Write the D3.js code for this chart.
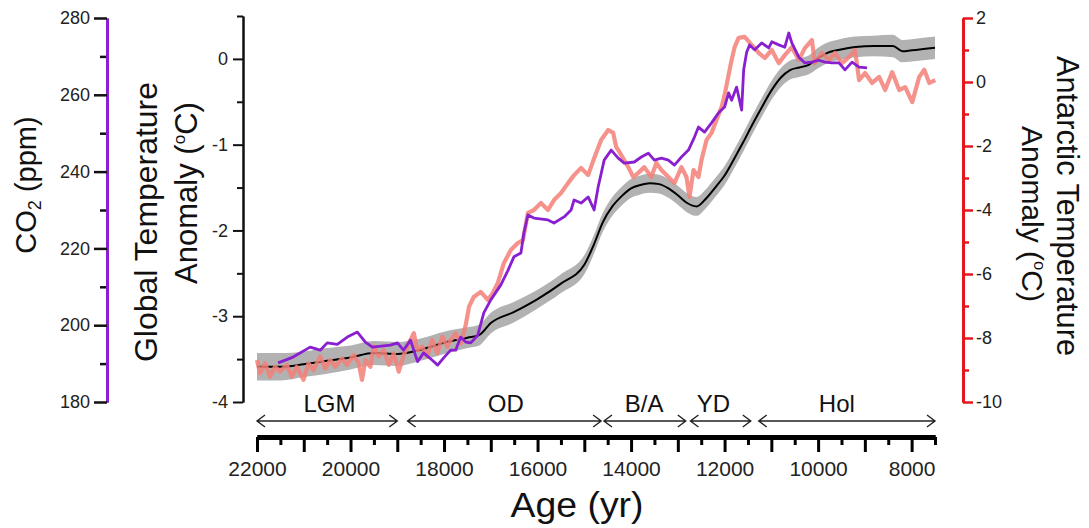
<!DOCTYPE html>
<html>
<head>
<meta charset="utf-8">
<script src="https://cdn.jsdelivr.net/npm/d3@7"></script>
<style>
  body { margin: 0; background: #fff; }
  text { font-family: "Liberation Sans", Arial, sans-serif; }
</style>
</head>
<body>
<svg id="chart" width="1089" height="528"></svg>
<script>
// Global temperature stack (black line + grey uncertainty band)
const globalAge = [22000, 21500, 21000, 20500, 20000, 19500, 19000, 18500, 18000, 17500, 17250, 17000, 16500, 16000, 15500, 15000, 14800, 14600, 14400, 14200, 14000, 13800, 13600, 13400, 13200, 13000, 12800, 12600, 12400, 12200, 12000, 11800, 11600, 11400, 11200, 11000, 10800, 10600, 10400, 10200, 10000, 9800, 9600, 9200, 8800, 8400, 8200, 8000, 7500];
const globalTemp = [-3.59, -3.59, -3.56, -3.52, -3.48, -3.43, -3.44, -3.39, -3.31, -3.25, -3.22, -3.08, -2.95, -2.80, -2.62, -2.40, -2.17, -1.90, -1.72, -1.60, -1.51, -1.47, -1.45, -1.46, -1.51, -1.59, -1.68, -1.72, -1.63, -1.50, -1.36, -1.17, -0.97, -0.76, -0.56, -0.37, -0.22, -0.13, -0.10, -0.07, 0.01, 0.07, 0.10, 0.14, 0.15, 0.15, 0.09, 0.10, 0.13];
const globalErr = [0.16, 0.16, 0.15, 0.15, 0.14, 0.14, 0.14, 0.13, 0.13, 0.12, 0.12, 0.12, 0.12, 0.11, 0.11, 0.11, 0.11, 0.11, 0.11, 0.11, 0.11, 0.11, 0.11, 0.11, 0.11, 0.11, 0.11, 0.11, 0.11, 0.11, 0.11, 0.11, 0.11, 0.11, 0.11, 0.11, 0.11, 0.11, 0.11, 0.11, 0.12, 0.12, 0.12, 0.12, 0.12, 0.13, 0.13, 0.13, 0.13];

// CO2 record (ppm)
const co2Age = [21549, 21227, 20863, 20648, 20498, 20283, 20069, 19854, 19682, 19532, 19146, 18996, 18867, 18717, 18567, 18438, 18245, 18137, 18009, 17858, 17751, 17644, 17536, 17429, 17279, 17150, 17000, 16785, 16635, 16506, 16356, 16292, 16206, 16077, 15777, 15648, 15433, 15283, 15219, 15069, 14918, 14790, 14704, 14575, 14425, 14275, 14146, 13931, 13781, 13631, 13502, 13352, 13202, 13073, 12923, 12773, 12644, 12558, 12429, 12279, 12129, 12000, 11914, 11850, 11743, 11635, 11592, 11528, 11464, 11356, 11206, 11056, 10991, 10841, 10712, 10627, 10562, 10412, 10283, 10133, 9983, 9854, 9704, 9554, 9425, 9275, 9124, 8953];
const co2Ppm = [190.2, 191.7, 194.3, 193.5, 195.4, 195.0, 196.9, 198.2, 195.6, 194.3, 194.8, 195.4, 193.5, 196.1, 190.5, 192.8, 190.8, 189.6, 191.5, 193.5, 193.5, 196.9, 195.6, 195.4, 197.4, 203.2, 206.6, 210.5, 214.2, 217.8, 218.8, 224.0, 228.7, 227.9, 227.4, 226.6, 228.2, 230.0, 232.6, 231.8, 233.4, 230.0, 236.0, 243.0, 245.6, 243.5, 242.2, 242.5, 243.8, 244.8, 243.0, 243.5, 243.0, 241.7, 243.8, 245.6, 249.0, 251.6, 250.3, 252.7, 255.3, 256.8, 260.5, 258.6, 262.0, 256.0, 266.5, 271.1, 273.0, 271.7, 273.5, 272.2, 273.8, 273.0, 272.4, 276.1, 273.5, 269.8, 268.3, 268.5, 269.0, 268.5, 268.3, 268.3, 266.5, 268.5, 267.2, 267.0];

// Antarctic temperature anomaly (degC)
const antAge = [22000, 21936, 21828, 21721, 21614, 21506, 21363, 21256, 21149, 21006, 20899, 20792, 20648, 20541, 20433, 20326, 20183, 20076, 19933, 19826, 19754, 19682, 19575, 19504, 19396, 19289, 19182, 19075, 18968, 18861, 18753, 18646, 18574, 18467, 18359, 18252, 18145, 18037, 17930, 17858, 17751, 17644, 17536, 17465, 17365, 17215, 17064, 16957, 16850, 16721, 16571, 16421, 16313, 16206, 16077, 15927, 15777, 15648, 15498, 15348, 15219, 15069, 14918, 14790, 14640, 14489, 14382, 14318, 14210, 14060, 13953, 13845, 13717, 13567, 13459, 13352, 13202, 13073, 12923, 12815, 12751, 12665, 12558, 12494, 12386, 12279, 12172, 12064, 12000, 11914, 11850, 11785, 11700, 11571, 11421, 11270, 11142, 10991, 10841, 10712, 10562, 10412, 10283, 10133, 10069, 9918, 9768, 9640, 9489, 9339, 9210, 9124, 8996, 8845, 8695, 8567, 8416, 8266, 8137, 7987, 7837, 7730, 7622, 7494];
const antTemp = [-8.69, -9.10, -8.79, -9.21, -8.90, -9.05, -8.84, -9.21, -8.90, -9.31, -8.79, -9.00, -8.58, -8.95, -8.69, -8.90, -8.64, -8.84, -8.53, -8.79, -9.31, -8.69, -8.90, -8.27, -8.58, -8.38, -8.84, -8.48, -9.05, -8.53, -8.17, -7.85, -8.38, -8.27, -8.58, -8.06, -8.48, -7.96, -8.27, -8.06, -7.85, -8.17, -7.59, -7.02, -6.72, -6.56, -6.81, -6.59, -6.28, -5.66, -5.25, -5.03, -4.94, -4.09, -4.00, -3.78, -4.00, -3.69, -3.47, -3.16, -2.91, -2.69, -2.91, -2.38, -1.81, -1.50, -1.59, -2.03, -2.28, -2.66, -2.97, -2.84, -2.66, -2.97, -2.53, -2.75, -2.97, -3.16, -2.66, -2.97, -3.59, -2.75, -2.97, -2.44, -1.81, -1.59, -1.19, -0.78, -0.41, 0.22, 0.69, 1.09, 1.38, 1.41, 1.16, 0.91, 0.75, 1.00, 0.59, 0.84, 1.09, 0.69, 1.06, 1.31, 0.59, 0.91, 0.69, 0.91, 0.59, 0.78, 1.00, 0.06, 0.28, -0.03, 0.16, -0.25, 0.31, -0.25, -0.16, -0.63, 0.16, 0.38, -0.03, 0.06];

// Climate periods along the age axis
const periodNames = ["LGM", "OD", "B/A", "YD", "Hol"];
const periodStart = [22000, 18780, 14580, 12730, 11270];
const periodEnd = [19000, 14640, 12830, 11440, 7500];
const periodLabelAge = [20450, 16680, 13720, 12240, 9600];

const svg = d3.select("#chart");
const purple = "#8a1fd0";
const salmon = "#f57f78";
const red = "#e3171c";

const x = d3.scaleLinear().domain([22000, 7500]).range([257, 935]);
const yGlobal = d3.scaleLinear().domain([-4, 0.5]).range([402, 16]);
const yCo2 = d3.scaleLinear().domain([180, 280]).range([402, 18]);
const yAnt = d3.scaleLinear().domain([-10, 2]).range([402, 18]);

// plain hyphen minus, like the original figure
const plain = d => String(d);

// ---- series ----
const globalData = globalAge.map((a, i) => ({age: a, t: globalTemp[i], e: globalErr[i]}));

svg.append("path")
    .datum(globalData)
    .attr("fill", "#b2b2b2")
    .attr("d", d3.area()
        .curve(d3.curveMonotoneX)
        .x(d => x(d.age))
        .y0(d => yGlobal(d.t - d.e))
        .y1(d => yGlobal(d.t + d.e)));

svg.append("path")
    .datum(globalData)
    .attr("fill", "none")
    .attr("stroke", "#000")
    .attr("stroke-width", 2)
    .attr("d", d3.line().curve(d3.curveMonotoneX).x(d => x(d.age)).y(d => yGlobal(d.t)));

svg.append("path")
    .datum(antAge.map((a, i) => [a, antTemp[i]]))
    .attr("fill", "none")
    .attr("stroke", salmon)
    .attr("stroke-opacity", 0.85)
    .attr("stroke-width", 4.2)
    .attr("stroke-linejoin", "round")
    .attr("d", d3.line().x(d => x(d[0])).y(d => yAnt(d[1])));

svg.append("path")
    .datum(co2Age.map((a, i) => [a, co2Ppm[i]]))
    .attr("fill", "none")
    .attr("stroke", purple)
    .attr("stroke-width", 2.8)
    .attr("stroke-linejoin", "round")
    .attr("d", d3.line().x(d => x(d[0])).y(d => yCo2(d[1])));

// ---- axes ----
function styleAxis(g, lineColor, tickColor, lineWidth, tickWidth) {
    g.select(".domain").attr("stroke", lineColor).attr("stroke-width", lineWidth);
    g.selectAll(".tick line").attr("stroke", tickColor).attr("stroke-width", tickWidth);
    g.selectAll(".tick text").attr("fill", "#222").style("font-family", "Liberation Sans, Arial, sans-serif");
}

// CO2 axis
const co2Minor = svg.append("g").attr("transform", "translate(107,0)")
    .call(d3.axisLeft(yCo2).tickValues(d3.range(190, 280, 20)).tickSize(7).tickSizeOuter(0).tickFormat(""));
styleAxis(co2Minor, purple, "#111", 3, 2.5);
const co2Major = svg.append("g").attr("transform", "translate(107,0)")
    .call(d3.axisLeft(yCo2).tickValues(d3.range(180, 281, 20)).tickSize(13).tickSizeOuter(0).tickPadding(4).tickFormat(plain));
styleAxis(co2Major, purple, "#111", 3, 2.5);
co2Major.selectAll(".tick text").attr("font-size", 18);

// Global temperature axis
const gMinor = svg.append("g").attr("transform", "translate(243,0)")
    .call(d3.axisLeft(yGlobal).tickValues([-3.5, -2.5, -1.5, -0.5, 0.5]).tickSize(6).tickSizeOuter(0).tickFormat(""));
styleAxis(gMinor, "#111", "#111", 2, 2);
const gMajor = svg.append("g").attr("transform", "translate(243,0)")
    .call(d3.axisLeft(yGlobal).tickValues([-4, -3, -2, -1, 0]).tickSize(10).tickSizeOuter(0).tickPadding(5).tickFormat(plain));
styleAxis(gMajor, "#111", "#111", 2, 2);
gMajor.selectAll(".tick text").attr("font-size", 18);

// Antarctic axis
const aMinor = svg.append("g").attr("transform", "translate(963,0)")
    .call(d3.axisRight(yAnt).tickValues(d3.range(-9, 2, 2)).tickSize(6).tickSizeOuter(0).tickFormat(""));
styleAxis(aMinor, red, red, 3, 2.5);
const aMajor = svg.append("g").attr("transform", "translate(963,0)")
    .call(d3.axisRight(yAnt).tickValues(d3.range(-10, 3, 2)).tickSize(10).tickSizeOuter(0).tickPadding(3).tickFormat(plain));
styleAxis(aMajor, red, red, 3, 2.5);
aMajor.selectAll(".tick text").attr("font-size", 18);

// Age axis
const xMinor = svg.append("g").attr("transform", "translate(0,437)")
    .call(d3.axisBottom(x).tickValues(d3.range(21500, 7400, -1000)).tickSize(8).tickSizeOuter(0).tickFormat(""));
styleAxis(xMinor, "#000", "#000", 5, 3);
const xMajor = svg.append("g").attr("transform", "translate(0,437)")
    .call(d3.axisBottom(x).tickValues(d3.range(22000, 7900, -1000)).tickSize(15).tickSizeOuter(0).tickPadding(9)
        .tickFormat(d => d % 2000 === 0 ? String(d) : ""));
styleAxis(xMajor, "#000", "#000", 5, 3);
xMajor.selectAll(".tick text").attr("font-size", 21);

// ---- period arrows ----
const arrowY = 421;
const periods = periodNames.map((n, i) => ({name: n, x1: x(periodStart[i]), x2: x(periodEnd[i]), lx: x(periodLabelAge[i])}));
const pg = svg.append("g");
pg.selectAll("path").data(periods).join("path")
    .attr("fill", "none")
    .attr("stroke", "#222")
    .attr("stroke-width", 1.4)
    .attr("d", d => `M${d.x1 + 8},${arrowY - 6}L${d.x1},${arrowY}L${d.x1 + 8},${arrowY + 6}` +
        `M${d.x1},${arrowY}H${d.x2}` +
        `M${d.x2 - 8},${arrowY - 6}L${d.x2},${arrowY}L${d.x2 - 8},${arrowY + 6}`);
pg.selectAll("text").data(periods).join("text")
    .attr("x", d => d.lx)
    .attr("y", 412)
    .attr("text-anchor", "middle")
    .attr("font-size", 24)
    .attr("fill", "#111")
    .text(d => d.name);

// ---- titles ----
const co2Title = svg.append("text")
    .attr("transform", "translate(36,185) rotate(-90)")
    .attr("text-anchor", "middle")
    .attr("font-size", 29)
    .attr("fill", "#111");
co2Title.append("tspan").text("CO");
co2Title.append("tspan").text("2").attr("font-size", 18).attr("dy", 5);
co2Title.append("tspan").text(" (ppm)").attr("dy", -5);

function degreeTitle(transform, lead, size) {
    const t = svg.append("text")
        .attr("transform", transform)
        .attr("text-anchor", "middle")
        .attr("font-size", size)
        .attr("fill", "#111");
    t.append("tspan").text(lead);
    t.append("tspan").text("o").attr("font-size", size * 0.55).attr("dy", -size * 0.4);
    t.append("tspan").text("C)").attr("dy", size * 0.4);
    return t;
}

svg.append("text")
    .attr("transform", "translate(157,222) rotate(-90)")
    .attr("text-anchor", "middle")
    .attr("font-size", 31)
    .attr("fill", "#111")
    .attr("textLength", 280)
    .attr("lengthAdjust", "spacingAndGlyphs")
    .text("Global Temperature");
degreeTitle("translate(197,193) rotate(-90)", "Anomaly (", 31);

svg.append("text")
    .attr("transform", "translate(1057,206) rotate(90)")
    .attr("text-anchor", "middle")
    .attr("font-size", 30.5)
    .attr("fill", "#111")
    .attr("textLength", 300)
    .attr("lengthAdjust", "spacingAndGlyphs")
    .text("Antarctic Temperature");
degreeTitle("translate(1022,214) rotate(90)", "Anomaly (", 30);

svg.append("text")
    .attr("x", 577)
    .attr("y", 517)
    .attr("text-anchor", "middle")
    .attr("font-size", 35)
    .attr("fill", "#111")
    .attr("textLength", 133)
    .attr("lengthAdjust", "spacingAndGlyphs")
    .text("Age (yr)");
</script>
</body>
</html>
